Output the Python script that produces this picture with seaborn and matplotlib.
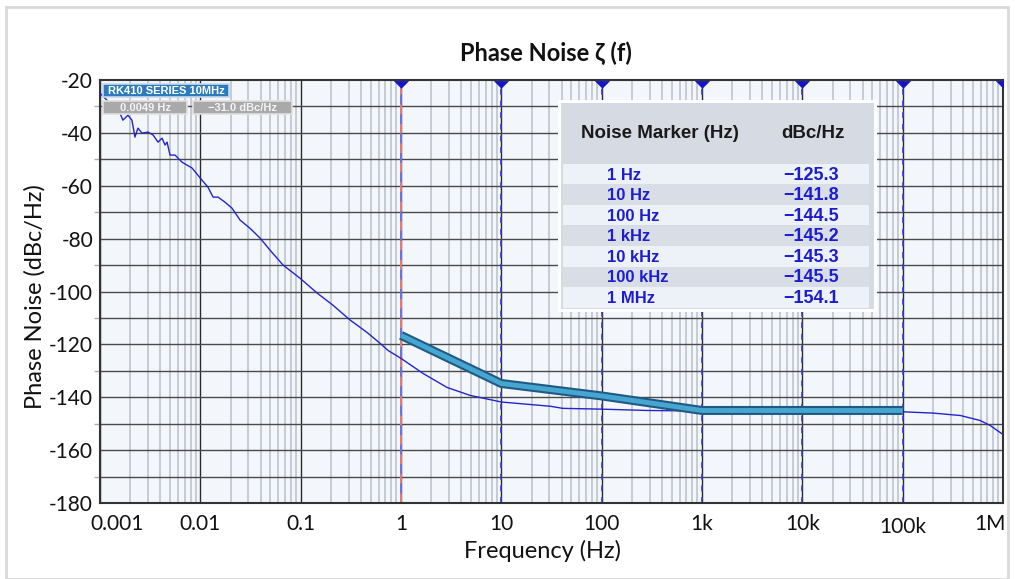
import numpy as np
import pandas as pd
import matplotlib
matplotlib.use("Agg")
import matplotlib.pyplot as plt
import seaborn as sns
from matplotlib.patches import Rectangle
from matplotlib.ticker import FixedLocator, NullFormatter
from matplotlib.transforms import ScaledTranslation

# ---------------- data ----------------
curve_freq = [0.001, 0.0012, 0.0014, 0.00158, 0.00169, 0.0019, 0.00208, 0.00223, 0.00239,
              0.00262, 0.00301, 0.00338, 0.00379, 0.00415, 0.00445, 0.00466, 0.00499,
              0.0056, 0.00658, 0.00827, 0.0104, 0.0119, 0.0134, 0.015, 0.0176, 0.0207,
              0.0249, 0.0313, 0.0394, 0.0496, 0.0668, 0.0987, 0.146, 0.21, 0.311, 0.459,
              0.619, 0.743, 1.0, 1.66, 2.88, 4.89, 10.0, 30.7, 41.0, 100.0, 284.0, 1000.0,
              10000.0, 100000.0, 202000.0, 375000.0, 594000.0, 747000.0, 1000000.0]
curve_db = [-25.0, -28.0, -30.5, -32.5, -35.2, -33.3, -35.2, -41.6, -38.2,
            -40.1, -39.7, -40.8, -43.5, -42.0, -44.6, -43.5, -48.4,
            -48.4, -51.1, -53.3, -57.9, -60.5, -64.3, -64.3, -66.2, -68.5,
            -73.0, -76.1, -79.8, -84.4, -90.0, -95.0, -100.6, -105.2, -110.8, -115.5,
            -119.6, -122.3, -125.3, -131.0, -136.3, -139.3, -141.8, -143.4, -144.2, -144.5, -145.0, -145.2,
            -145.3, -145.5, -146.0, -146.9, -148.8, -150.7, -154.1]

spec_freq = [1, 10, 100, 1000, 10000, 100000]
spec_db = [-116.6, -134.8, -139.5, -145.0, -145.0, -145.0]

marker_freq = [1, 10, 100, 1000, 10000, 100000, 1000000]
marker_labels = ["1 Hz", "10 Hz", "100 Hz", "1 kHz", "10 kHz", "100 kHz", "1 MHz"]
marker_values = ["\u2212125.3", "\u2212141.8", "\u2212144.5", "\u2212145.2",
                 "\u2212145.3", "\u2212145.5", "\u2212154.1"]

xtick_vals = [0.001, 0.01, 0.1, 1, 10, 100, 1000, 10000, 100000, 1000000]
xtick_labels = ["0.001", "0.01", "0.1", "1", "10", "100", "1k", "10k", "100k", "1M"]
ytick_vals = [-20, -40, -60, -80, -100, -120, -140, -160, -180]

# ---------------- style ----------------
sns.set_theme(style="white")
plt.rcParams['font.family'] = ['Lato', 'DejaVu Sans']
plt.rcParams['axes.unicode_minus'] = False

W, H = 1015, 579
fig = plt.figure(figsize=(W / 100, H / 100), dpi=100)
fig.patch.set_facecolor("white")
fig.add_artist(Rectangle((6 / W, 0), (1008 - 6) / W, 1 - 7 / H, transform=fig.transFigure,
                         fill=False, edgecolor="#d9d9d9", linewidth=2))

ax = fig.add_axes([100 / W, 1 - 503 / H, 903 / W, 423 / H])
ax.set_facecolor("#f3f7fc")
ax.set_xscale("log")
ax.set_xlim(0.001, 1e6)
ax.set_ylim(-180, -20)

# grid
ax.xaxis.set_major_locator(FixedLocator(xtick_vals))
minors = [m * 10.0 ** e for e in range(-3, 6) for m in range(2, 10)]
ax.xaxis.set_minor_locator(FixedLocator(minors))
ax.xaxis.set_minor_formatter(NullFormatter())
ax.set_yticks(ytick_vals)
ax.set_yticks(list(range(-170, -20, 20)), minor=True)
ax.grid(True, which="major", axis="x", color="#2b2b2b", linewidth=1.0, zorder=1)
ax.grid(True, which="minor", axis="x", color="#c3c8d0", linewidth=1.3, zorder=1)
for yv in range(-170, -20, 10):
    ax.axhline(yv, color="#4a4a4a", linewidth=1.0, zorder=1)
ax.set_axisbelow(True)

ax.set_xticklabels(xtick_labels)
ax.tick_params(axis="x", which="major", length=0, labelsize=15, pad=8, colors="#111111")
ax.tick_params(axis="x", which="minor", length=0)
ax.tick_params(axis="y", which="major", length=0, labelsize=15, pad=5, colors="#111111")
ax.tick_params(axis="y", which="minor", length=4, color="#b0b0b0", width=1, left=True)
xl = ax.get_xticklabels()
xl[0].set_transform(xl[0].get_transform() + ScaledTranslation(17 / 100, 0, fig.dpi_scale_trans))
xl[-1].set_horizontalalignment("right")
xl[-1].set_transform(xl[-1].get_transform() + ScaledTranslation(3 / 100, 0, fig.dpi_scale_trans))
xl[-2].set_transform(xl[-2].get_transform() + ScaledTranslation(0, -3 / 100, fig.dpi_scale_trans))

for s in ax.spines.values():
    s.set_color("#333333")
    s.set_linewidth(1.5)
    s.set_zorder(3)

# vertical marker lines
ax.axvline(1, color="#e57878", linewidth=1.4, linestyle=(0, (5, 5)), zorder=2)
ax.axvline(1, color="#7070dd", linewidth=1.4, linestyle=(5, (5, 5)), zorder=2)
for f in marker_freq[1:]:
    ax.axvline(f, color="#3a3ad0", linewidth=1.2, linestyle=(0, (3.5, 3.5)), zorder=2)

# main curve
df = pd.DataFrame({"freq": curve_freq, "db": curve_db})
sns.lineplot(data=df, x="freq", y="db", ax=ax, color="#2424c8", linewidth=1.0,
             zorder=4, estimator=None, sort=False)

# spec line (thick teal with dark outline)
sdf = pd.DataFrame({"freq": spec_freq, "db": spec_db})
sns.lineplot(data=sdf, x="freq", y="db", ax=ax, color="#1f5a86", linewidth=6.5,
             zorder=5, estimator=None, sort=False, solid_capstyle="butt")
sns.lineplot(data=sdf, x="freq", y="db", ax=ax, color="#46a6cf", linewidth=3.5,
             zorder=6, estimator=None, sort=False, solid_capstyle="butt")

# markers on top (flat downward triangles just under the top spine)
tri = [(-1, 0.45), (1, 0.45), (0, -0.55), (-1, 0.45)]
ax.plot(marker_freq, [-21.6] * len(marker_freq), linestyle="none", marker=tri,
        markersize=11, color="#1515c8", markeredgewidth=0, zorder=9, clip_on=True)

ax.set_xlabel("Frequency (Hz)", fontsize=17, color="#111111", va="center")
ax.set_ylabel("Phase Noise (dBc/Hz)", fontsize=17, color="#111111", va="center")
ax.xaxis.set_label_coords((542 - 100) / 903, (503 - 551) / 423)
ax.yaxis.set_label_coords((35 - 100) / 903, (503 - 297) / 423)
fig.text(546 / W, 1 - 53 / H, "Phase Noise \u03b6 (f)", ha="center", va="center",
         fontsize=17, fontweight="bold", color="#111111")

# cursor label boxes (figure pixel coords)
def px_box(x0, y0, x1, y1, fc, ec, text, tcol):
    fig.add_artist(Rectangle((x0 / W, 1 - y1 / H), (x1 - x0) / W, (y1 - y0) / H,
                             transform=fig.transFigure, facecolor=fc, edgecolor=ec,
                             linewidth=1.2, zorder=20))
    fig.text((x0 + x1) / 2 / W, 1 - (y0 + y1) / 2 / H, text, ha="center", va="center",
             fontsize=8, color=tcol, fontweight="bold", zorder=21,
             family=["Liberation Sans", "DejaVu Sans"])

px_box(103, 84, 229, 97, "#2b7bbd", "#c8d8ea", "RK410 SERIES 10MHz", "white")
px_box(103, 101, 187, 114, "#a9a9a9", "#e0e0e0", "0.0049 Hz", "#f4f4f4")
px_box(193, 101, 292, 114, "#a9a9a9", "#e0e0e0", "\u221231.0 dBc/Hz", "#f4f4f4")

# table inset
tx0, ty0, tx1, ty1 = 558, 100, 877, 312
tab = fig.add_axes([tx0 / W, 1 - ty1 / H, (tx1 - tx0) / W, (ty1 - ty0) / H])
tab.set_xlim(tx0, tx1)
tab.set_ylim(ty1, ty0)
tab.axis("off")
tab.add_patch(Rectangle((tx0, ty0), tx1 - tx0, ty1 - ty0, facecolor="white", edgecolor="none"))
tab.add_patch(Rectangle((tx0 + 3, ty0 + 3), tx1 - tx0 - 6, ty1 - ty0 - 6,
                        facecolor="#d6dbe3", edgecolor="none"))
fam = ["Liberation Sans", "DejaVu Sans"]
tab.text(660, 133, "Noise Marker (Hz)", ha="center", va="center", fontsize=13.5,
         fontweight="bold", color="#1a1a1a", family=fam)
tab.text(813, 133, "dBc/Hz", ha="center", va="center", fontsize=13.5,
         fontweight="bold", color="#1a1a1a", family=fam)
row_h = 20.6
for i, (lab, val) in enumerate(zip(marker_labels, marker_values)):
    yc = 174 + i * row_h
    fc = "#edf1f8" if i % 2 == 0 else "#d9dee6"
    tab.add_patch(Rectangle((563, yc - row_h / 2), 869 - 563, row_h, facecolor=fc,
                            edgecolor="none"))
    tab.text(607, yc + 1, lab, ha="left", va="center", fontsize=12, fontweight="bold",
             color="#1c1cd0", family=fam)
    tab.text(839, yc + 1, val, ha="right", va="center", fontsize=13, fontweight="bold",
             color="#1c1cd0", family=fam)

fig.savefig("out.png", dpi=100)
